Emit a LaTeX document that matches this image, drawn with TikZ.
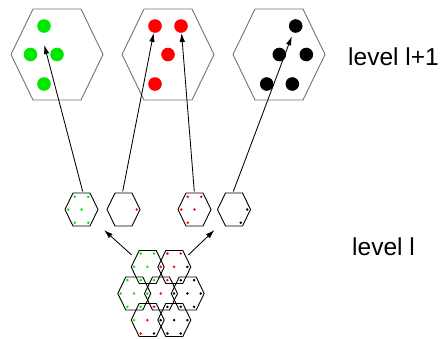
\documentclass[tikz,border=0pt]{standalone}
\usepackage{fontspec}
\setmainfont{Liberation Sans}
\usetikzlibrary{arrows.meta}

\definecolor{pgreen}{RGB}{0,232,0}
\definecolor{pred}{RGB}{255,0,0}
\definecolor{pblack}{RGB}{0,0,0}

\tikzset{
    bighex/.style={draw=black!55, line width=0.9pt},
    cellhex/.style={draw=black, line width=0.9pt},
    bigdot/.style={circle, inner sep=0pt, minimum size=13.6pt},
    smalldot/.style={circle, inner sep=0pt, minimum size=2.8pt},
    link/.style={-{Latex[length=9pt,width=5.5pt]}, line width=0.85pt},
    lvl/.style={font=\fontsize{24.5}{28}\selectfont, inner sep=0pt, anchor=base west}
}

\begin{document}
\begin{tikzpicture}[x=1pt, y=-1pt]
    \useasboundingbox (0,0) rectangle (443,338);

    % level l+1 cells
    \foreach \cx in {57,168,279} {
        \draw[bighex] (\cx-46,54.5) -- (\cx-24,9) -- (\cx+24,9) -- (\cx+46,54.5)
            -- (\cx+24,100) -- (\cx-24,100) -- cycle;
    }

    % particles on level l+1
    \foreach \x/\y [count=\n] in {44/26, 30.5/54.5, 57/54.5, 44/84}
        \node[bigdot, fill=pgreen] (g\n) at (\x,\y) {};
    \foreach \x/\y [count=\n] in {155/26, 181/26, 168/54.5, 155/84}
        \node[bigdot, fill=pred] (r\n) at (\x,\y) {};
    \foreach \x/\y [count=\n] in {295.7/26, 279.3/54.5, 306.3/54.5, 266.7/84, 292.3/84}
        \node[bigdot, fill=pblack] (k\n) at (\x,\y) {};

    % split cells, one colour each
    \foreach \cx in {81.5,123.5,194.5,234} {
        \draw[cellhex, shift={(\cx,209.5)}] (-16.5,0) -- (-8.5,-16.5) -- (8.5,-16.5)
            -- (16.5,0) -- (8.5,16.5) -- (-8.5,16.5) -- cycle;
    }
    \foreach \x/\y in {-6.7/-12.8, 6.7/-12.8, -13.3/0, 0/0, -6.7/13.2, 6.7/13.2}
        \node[smalldot, fill=pgreen] at (81.5+\x,209.5+\y) {};
    \node[smalldot, fill=pred] at (136.8,209.5) {};
    \foreach \x/\y in {-6.7/-12.8, 6.7/-12.8, -13.3/0, 0/0, -6.7/13.2}
        \node[smalldot, fill=pred] at (194.5+\x,209.5+\y) {};
    \node[smalldot, fill=pblack] at (247.3,209.5) {};
    \node[smalldot, fill=pblack] at (240.7,222.7) {};

    % level l cells (7 overlapping hexagons)
    \foreach \cx/\cy in {147.7/267, 174.3/267, 134.3/293.5, 161/293.5, 187.7/293.5,
                         147.7/320, 174.3/320} {
        \draw[cellhex, shift={(\cx,\cy)}] (-16.5,0) -- (-8.5,-16.5) -- (8.5,-16.5)
            -- (16.5,0) -- (8.5,16.5) -- (-8.5,16.5) -- cycle;
    }

    % particles on level l: column index / row / colour
    \foreach \i/\r/\c in {3/0/pgreen, 5/0/pgreen, 7/0/pred, 9/0/pred,
            2/1/pgreen, 4/1/pgreen, 6/1/pred, 8/1/pred, 10/1/pblack,
            1/2/pgreen, 3/2/pgreen, 5/2/pgreen, 7/2/pred, 9/2/pblack, 11/2/pblack,
            0/3/pgreen, 2/3/pgreen, 4/3/pgreen, 6/3/pred, 8/3/pblack, 10/3/pblack, 12/3/pblack,
            1/4/pgreen, 3/4/pgreen, 5/4/pred, 7/4/pblack, 9/4/pblack, 11/4/pblack,
            2/5/pgreen, 4/5/pred, 6/5/pblack, 8/5/pblack, 10/5/pblack,
            3/6/pred, 5/6/pblack, 7/6/pblack, 9/6/pblack}
        \node[smalldot, fill=\c] at (120.7+6.67*\i, 253.5+13.33*\r) {};

    % arrow ends
    \coordinate (topA) at (82.7,191.5);
    \coordinate (topB) at (122.7,191.5);
    \coordinate (topC) at (194.3,191.5);
    \coordinate (topD) at (233.3,191.5);
    \coordinate (tipG) at (44.3,45);
    \coordinate (outL) at (131.7,255);
    \coordinate (outR) at (188.3,255);
    \coordinate (inL) at (104,230);
    \coordinate (inR) at (214.5,230);

    \draw[link] (topA) -- (tipG);
    \draw[link] (topB) -- (r1);
    \draw[link] (topC) -- (r2);
    \draw[link, shorten >=4pt] (topD) -- (k1);
    \draw[link] (outL) -- (inL);
    \draw[link] (outR) -- (inR);

    % labels
    \node[lvl] (lup) at (348,65.7) {level l+1};
    \node[lvl] (llo) at (352,255) {level l};
\end{tikzpicture}
\end{document}
